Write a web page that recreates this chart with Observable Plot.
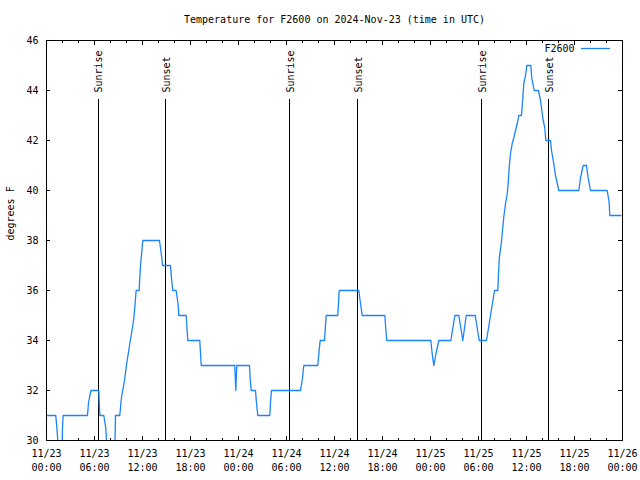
<!DOCTYPE html>
<html>
<head>
<meta charset="utf-8">
<script src="https://cdn.jsdelivr.net/npm/d3@7"></script>
<script src="https://cdn.jsdelivr.net/npm/@observablehq/plot@0.6"></script>
<style>
  html, body { margin: 0; padding: 0; background: #fff; }
</style>
</head>
<body>
<div id="chart"></div>
<script>
const titleText = "Temperature for F2600 on 2024-Nov-23 (time in UTC)";
const yLabel = "degrees F";
const seriesName = "F2600";

// hours since 2024-11-23 00:00 UTC
const hours = [0, 1.16, 1.3, 1.5, 1.95, 2.0, 2.08, 5.12, 5.25, 5.54, 6.54, 6.6, 6.66, 7.16, 7.41, 7.58, 8.54, 8.6, 8.62, 9.16,
  9.29, 9.41, 9.58, 9.75, 9.91, 10.08, 10.25, 10.41, 10.58, 10.75, 10.91, 11.08, 11.2, 11.58, 11.66, 11.75, 11.87, 12.04,
  14.12, 14.25, 14.41, 14.5, 15.5, 15.62, 15.79, 16.21, 16.34, 16.46, 16.54, 17.46, 17.54, 17.66, 19.16, 19.25, 19.34,
  23.54, 23.66, 23.79, 25.375, 25.45, 25.59, 26.12, 26.25, 26.41, 27.91, 28.0, 28.12, 31.75, 32.0, 32.16, 33.91, 34.05,
  34.21, 34.75, 34.85, 34.96, 36.41, 36.5, 36.59, 39.04, 39.2, 39.46, 42.29, 42.4, 42.54, 48.04, 48.2, 48.41, 48.7, 49.04,
  50.54, 50.8, 51.04, 51.54, 52.04, 52.46, 53.59, 54.09, 55.0, 55.5, 56.0, 56.41, 56.6, 56.84, 57.16, 57.375, 57.59, 57.71,
  57.84, 58.0, 58.21, 58.41, 58.625, 58.84, 59.04, 59.375, 59.5, 59.66, 59.91, 60.04, 60.54, 60.66, 60.96, 61.5, 61.75,
  62.09, 62.29, 62.41, 63.0, 63.125, 63.41, 63.625, 64.04, 66.54, 66.75, 67.09, 67.5, 67.71, 68.0, 70.09, 70.34, 70.41, 71.8];
const tempF = [31, 31, 30.5, 29.6, 29.6, 30.5, 31, 31, 31.5, 32, 32, 31.5, 31, 31, 30.5, 29.6, 29.6, 30.5, 31, 31,
  31.47, 31.8, 32.1, 32.4, 32.8, 33.2, 33.53, 33.87, 34.2, 34.53, 34.87, 35.47, 36, 36, 36.5, 37, 37.4, 38,
  38, 37.7, 37.3, 37, 37, 36.5, 36, 36, 35.7, 35.4, 35, 35, 34.6, 34, 34, 33.5, 33,
  33, 32, 33, 33, 32.5, 32, 32, 31.5, 31, 31, 31.5, 32, 32, 32.5, 33, 33, 33.5,
  34, 34, 34.5, 35, 35, 35.5, 36, 36, 35.6, 35, 35, 34.5, 34, 34, 33.5, 33, 33.5, 34,
  34, 34.5, 35, 35, 34, 35, 35, 34, 34, 35, 36, 36, 37.3, 37.87, 38.93, 39.47, 39.87, 40.27,
  40.93, 41.47, 41.87, 42.1, 42.4, 42.67, 43, 43, 43.53, 44.27, 44.67, 45, 45, 44.5, 44, 44, 43.6,
  42.8, 42.5, 42, 42, 41.6, 41.07, 40.6, 40, 40, 40.5, 41, 41, 40.5, 40, 40, 39.5, 39, 39];

const sunTimes = [6.46, 14.92, 30.42, 38.92, 54.42, 62.8];
const sunLabels = ["Sunrise", "Sunset", "Sunrise", "Sunset", "Sunrise", "Sunset"];
const sunLineTop = 43.64;
const sunLabelBase = 43.92;

const xMajor = [0, 6, 12, 18, 24, 30, 36, 42, 48, 54, 60, 66, 72];
const xMinor = [2, 4, 8, 10, 14, 16, 20, 22, 26, 28, 32, 34, 38, 40, 44, 46, 50, 52, 56, 58, 62, 64, 68, 70];
const xTickDates = ["11/23", "11/23", "11/23", "11/23", "11/24", "11/24", "11/24", "11/24", "11/25", "11/25", "11/25", "11/25", "11/26"];
const xTickTimes = ["00:00", "06:00", "12:00", "18:00", "00:00", "06:00", "12:00", "18:00", "00:00", "06:00", "12:00", "18:00", "00:00"];
const yTicks = [30, 32, 34, 36, 38, 40, 42, 44, 46];

const data = hours.map((h, i) => ({h, t: tempF[i]}));
const lineColor = "#1a84ff";
const font = "'DejaVu Sans Mono', 'Liberation Mono', monospace";

const majorX = 0.18, minorX = 0.1, majorY = 0.5;
const crisp = {stroke: "#000", shapeRendering: "crispEdges"};

const plot = Plot.plot({
  width: 640,
  height: 480,
  marginLeft: 46,
  marginRight: 18,
  marginTop: 40,
  marginBottom: 40,
  style: {fontFamily: font, fontSize: "10px", background: "#fff", color: "#000"},
  x: {domain: [0, 72], axis: null},
  y: {domain: [30, 46], axis: null},
  marks: [
    // ticks (inward, mirrored)
    Plot.ruleX(xMajor, {x: d => d, y1: 30, y2: 30 + majorX, ...crisp}),
    Plot.ruleX(xMajor, {x: d => d, y1: 46, y2: 46 - majorX, ...crisp}),
    Plot.ruleX(xMinor, {x: d => d, y1: 30, y2: 30 + minorX, ...crisp}),
    Plot.ruleX(xMinor, {x: d => d, y1: 46, y2: 46 - minorX, ...crisp}),
    Plot.ruleY(yTicks, {y: d => d, x1: 0, x2: majorY, ...crisp}),
    Plot.ruleY(yTicks, {y: d => d, x1: 72, x2: 72 - majorY, ...crisp}),
    // tick labels
    Plot.text(xMajor, {x: d => d, text: (d, i) => xTickDates[i], frameAnchor: "bottom", lineAnchor: "middle", dy: 13}),
    Plot.text(xMajor, {x: d => d, text: (d, i) => xTickTimes[i], frameAnchor: "bottom", lineAnchor: "middle", dy: 27}),
    Plot.text(yTicks, {y: d => d, text: d => String(d), frameAnchor: "left", dx: -8, textAnchor: "end"}),
    // axis label and title
    Plot.text([yLabel], {text: d => d, frameAnchor: "left", dx: -36, rotate: -90}),
    Plot.text([titleText], {text: d => d, frameAnchor: "top", lineAnchor: "middle", dy: -21}),
    // sunrise / sunset
    Plot.ruleX(sunTimes, {x: d => d, y1: 30, y2: sunLineTop, strokeWidth: 1, ...crisp}),
    Plot.text(sunTimes, {x: d => d, y: sunLabelBase, text: (d, i) => sunLabels[i], rotate: -90, textAnchor: "start", dx: 1}),
    // data
    Plot.line(data, {x: "h", y: "t", stroke: lineColor, strokeWidth: 1.3, clip: true}),
    // legend label
    Plot.text([seriesName], {text: d => d, frameAnchor: "top-right", lineAnchor: "middle", dx: -48, dy: 8, textAnchor: "end"}),
    Plot.frame({stroke: "#000", shapeRendering: "crispEdges"})
  ]
});

// legend swatch line
const svg = d3.select(plot);
const right = 640 - 18;
svg.append("line")
  .attr("x1", right - 41).attr("x2", right - 12)
  .attr("y1", 40 + 8.5).attr("y2", 40 + 8.5)
  .attr("stroke", lineColor).attr("stroke-width", 1.3);

document.getElementById("chart").appendChild(plot);
</script>
</body>
</html>
